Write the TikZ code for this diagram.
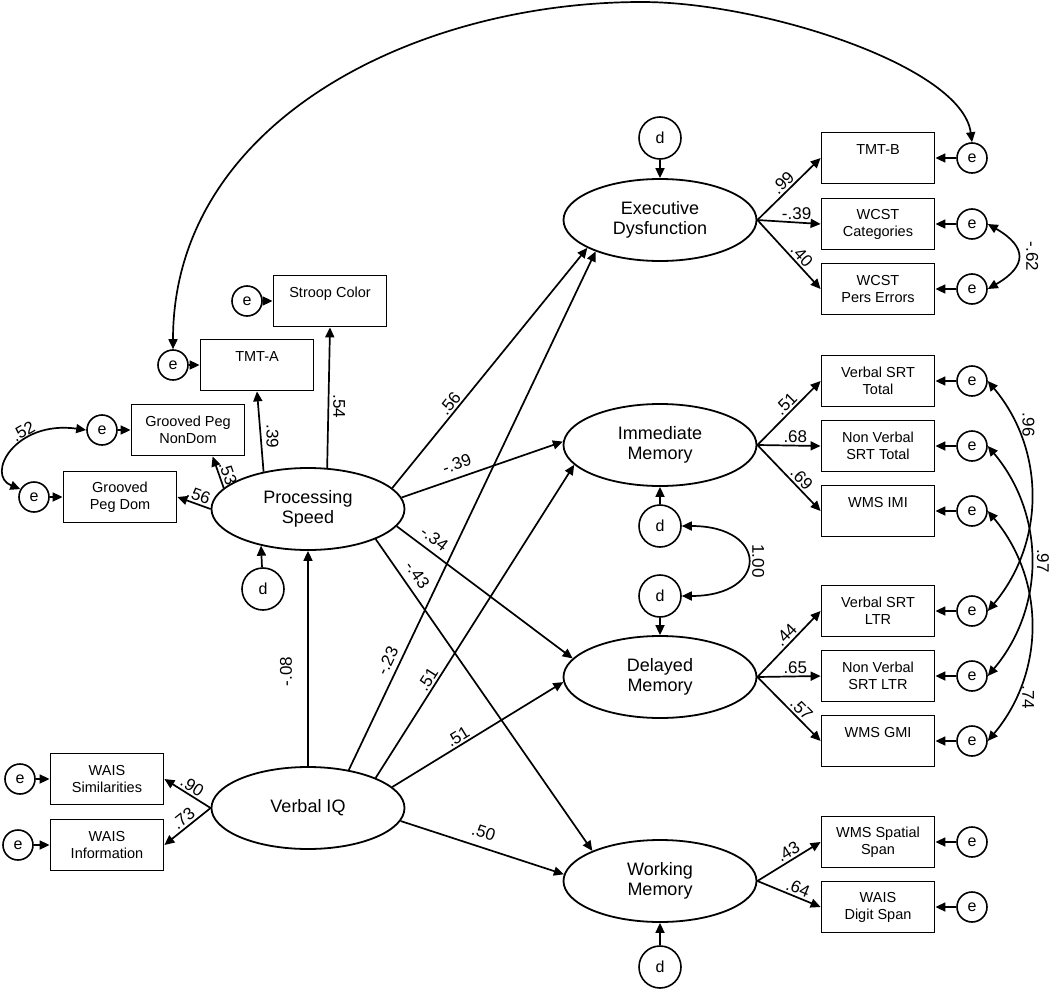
\documentclass[tikz,border=0pt]{standalone}
\usepackage{fontspec}
\setmainfont{Liberation Sans}
\usepackage{tikz}
\usetikzlibrary{arrows.meta,shapes.geometric}
\tikzset{
  latent/.style={ellipse,draw,line width=1.8pt,minimum width=193pt,minimum height=82pt,inner sep=0pt,align=center,font=\fontsize{18}{20}\selectfont},
  manifest/.style={rectangle,draw,line width=1.8pt,minimum width=113pt,minimum height=51pt,inner sep=0pt,align=center,font=\fontsize{14.5}{17}\selectfont},
  err/.style={circle,draw,line width=1.6pt,minimum size=30pt,inner sep=0pt,font=\fontsize{16}{16}\selectfont},
  dist/.style={circle,draw,line width=1.6pt,minimum size=42pt,inner sep=0pt,font=\fontsize{16}{16}\selectfont},
  arr/.style={line width=1.7pt,-{Triangle[length=10pt,width=9pt]}},
  cov/.style={line width=1.7pt,{Triangle[length=10pt,width=9pt]}-{Triangle[length=10pt,width=9pt]}},
  coef/.style={font=\fontsize{17}{17}\selectfont,inner sep=2pt},
  vcoef/.style={coef,anchor=south,inner ysep=#1},
  vcoef/.default=3pt
}

\begin{document}
\begin{tikzpicture}[x=1pt,y=1pt]
\useasboundingbox (0,0) rectangle (1050,-990);
% latent factors
\node[latent] (ps)  at (308,-509) {Processing\\Speed};
\node[latent] (viq) at (308,-808) {Verbal IQ};
\node[latent] (exd) at (660,-220) {Executive\\Dysfunction};
\node[latent] (imm) at (660,-445) {Immediate\\Memory};
\node[latent] (dlm) at (660,-677) {Delayed\\Memory};
\node[latent] (wkm) at (660,-881) {Working\\Memory};
\node[dist] (dps)  at (263,-589) {d};
\node[dist] (dexd) at (660,-138) {d};
\node[dist] (dimm) at (660,-526) {d};
\node[dist] (ddlm) at (660,-596) {d};
\node[dist] (dwkm) at (660,-967) {d};
% left indicators
\node[manifest] (stroop) at (330,-301) {Stroop Color\\\mbox{}};
\node[manifest] (tmta)   at (257,-365) {TMT-A\\\mbox{}};
\node[manifest] (gpnd)   at (188,-430) {Grooved Peg\\NonDom};
\node[manifest] (gpd)    at (120,-497) {Grooved\\Peg Dom};
\node[manifest] (waiss)  at (107,-779) {WAIS\\Similarities};
\node[manifest] (waisi)  at (107,-845) {WAIS\\Information};
\node[err] (estroop) at (247,-301) {e};
\node[err] (etmta)   at (173,-365) {e};
\node[err] (egpnd)   at (102,-430) {e};
\node[err] (egpd)    at (34,-497) {e};
\node[err] (ewaiss)  at (20,-779) {e};
\node[err] (ewaisi)  at (18,-845) {e};
% right indicators
\node[manifest] (tmtb)   at (878,-158) {TMT-B\\\mbox{}};
\node[manifest] (wcstc)  at (878,-224) {WCST\\Categories};
\node[manifest] (wcstp)  at (878,-289) {WCST\\Pers Errors};
\node[manifest] (vsrtt)  at (878,-381) {Verbal SRT\\Total};
\node[manifest] (nvsrtt) at (878,-446) {Non Verbal\\SRT Total};
\node[manifest] (wmsimi) at (878,-511) {WMS IMI\\\mbox{}};
\node[manifest] (vsrtl)  at (878,-611) {Verbal SRT\\LTR};
\node[manifest] (nvsrtl) at (878,-676) {Non Verbal\\SRT LTR};
\node[manifest] (wmsgmi) at (878,-741) {WMS GMI\\\mbox{}};
\node[manifest] (wmssp)  at (878,-842) {WMS Spatial\\Span};
\node[manifest] (waisd)  at (878,-907) {WAIS\\Digit Span};
\node[err] (etmtb)   at (972,-158) {e};
\node[err] (ewcstc)  at (972,-224) {e};
\node[err] (ewcstp)  at (972,-289) {e};
\node[err] (evsrtt)  at (972,-381) {e};
\node[err] (envsrtt) at (972,-446) {e};
\node[err] (ewmsimi) at (972,-511) {e};
\node[err] (evsrtl)  at (972,-611) {e};
\node[err] (envsrtl) at (972,-676) {e};
\node[err] (ewmsgmi) at (972,-741) {e};
\node[err] (ewmssp)  at (972,-842) {e};
\node[err] (ewaisd)  at (972,-907) {e};
% error and disturbance paths
\foreach \src/\dst in {estroop/stroop.west,etmta/tmta.west,egpnd/gpnd.west,egpd/gpd.west,ewaiss/waiss.west,ewaisi/waisi.west,
  etmtb/tmtb.east,ewcstc/wcstc.east,ewcstp/wcstp.east,evsrtt/vsrtt.east,envsrtt/nvsrtt.east,ewmsimi/wmsimi.east,
  evsrtl/vsrtl.east,envsrtl/nvsrtl.east,ewmsgmi/wmsgmi.east,ewmssp/wmssp.east,ewaisd/waisd.east}
  \draw[arr] (\src) -- (\dst);
\foreach \src/\dst in {dexd/exd,dimm/imm,ddlm/dlm,dwkm/wkm}
  \draw[arr] (\src) -- (\dst);
\draw[arr] (dps) -- (ps.-142);
% loadings
\draw[arr] (ps.west) -- node[coef,pos=.45,sloped,above]{.56} (gpd.east);
\draw[arr] (ps.166) -- node[coef,pos=.36,sloped,above]{.53} (gpnd.-47);
\draw[arr] (ps.140) -- node[vcoef=5pt,pos=.44,rotate=-90]{.39} (tmta.south);
\draw[arr] (ps.65) -- node[vcoef=4pt,pos=.44,rotate=-90]{.54} (stroop.south);
\draw[arr] (viq.west) -- node[coef,pos=.5,sloped,above]{.90} (waiss.east);
\draw[arr] (viq.west) -- node[coef,pos=.47,sloped,above]{.73} (waisi.east);
\draw[arr] (exd.east) -- node[coef,pos=.5,sloped,above]{.99} (tmtb.west);
\draw[arr] (exd.east) -- node[coef,pos=.62,above]{-.39} (wcstc.west);
\draw[arr] (exd.east) -- node[coef,pos=.6,sloped,above]{.40} (wcstp.west);
\draw[arr] (imm.east) -- node[coef,pos=.55,sloped,above]{.51} (vsrtt.west);
\draw[arr] (imm.east) -- node[coef,pos=.6,above]{.68} (nvsrtt.west);
\draw[arr] (imm.east) -- node[coef,pos=.6,sloped,above]{.69} (wmsimi.west);
\draw[arr] (dlm.east) -- node[coef,pos=.55,sloped,above]{.44} (vsrtl.west);
\draw[arr] (dlm.east) -- node[coef,pos=.6,above]{.65} (nvsrtl.west);
\draw[arr] (dlm.east) -- node[coef,pos=.6,sloped,above]{.57} (wmsgmi.west);
\draw[arr] (wkm.east) -- node[coef,pos=.56,sloped,above]{.43} (wmssp.west);
\draw[arr] (wkm.east) -- node[coef,pos=.59,sloped,above]{.64} (waisd.west);
% structural paths
\draw[arr] (ps.14) -- node[coef,pos=.33,sloped,above]{.56} (exd.-159);
\draw[arr] (ps.7) -- node[coef,pos=.37,sloped,above=5pt]{-.39} (imm.178);
\draw[arr] (ps.-11) -- node[coef,pos=.17,sloped,above=4pt]{-.34} (dlm.168);
\draw[arr] (ps.-24) -- node[coef,pos=.14,sloped,above=5pt]{-.43} (wkm.156);
\draw[arr] (viq.north) -- node[vcoef=15pt,pos=.44,rotate=90]{-.08} (ps.south);
\draw[arr] (viq.43) -- node[coef,pos=.2,sloped,above=3pt]{-.23} (exd.-154);
\draw[arr] (viq.24) -- node[coef,pos=.3,sloped,above]{.51} (imm.-167);
\draw[arr] (viq.14) -- node[coef,pos=.41,sloped,above]{.51} (dlm.-177);
\draw[arr] (viq.-8) -- node[coef,pos=.48,sloped,above=6pt]{.50} (wkm.176);
% covariances
\coordinate (arctop) at (642,-2);
\draw[cov] (etmta.north) .. controls (173,-123) and (413,-2) .. (arctop) .. controls (762,-2) and (962,-66) .. (etmtb.north);
\draw[cov] (egpnd.west) .. controls (15,-420) and (-15,-475) .. node[coef,pos=.35,sloped,above]{.52} (egpd.150);
\draw[cov] (dimm.east) to[out=0,in=0,looseness=3.2] node[vcoef=4pt,pos=.5,rotate=-90]{1.00} (ddlm.east);
\draw[cov] (ewcstc.east) to[out=-30,in=30,looseness=1.8] node[vcoef=8pt,pos=.5,rotate=-90]{-.62} (ewcstp.east);
\draw[cov] (evsrtt.east) to[out=-50,in=50] node[vcoef=6pt,pos=.2,rotate=-90]{.96} (evsrtl.east);
\draw[cov] (envsrtt.east) to[out=-50,in=50] node[vcoef=5pt,pos=.5,rotate=-90]{.97} (envsrtl.east);
\draw[cov] (ewmsimi.east) to[out=-50,in=50] node[vcoef=6pt,pos=.8,rotate=-90]{.74} (ewmsgmi.east);
\end{tikzpicture}
\end{document}
